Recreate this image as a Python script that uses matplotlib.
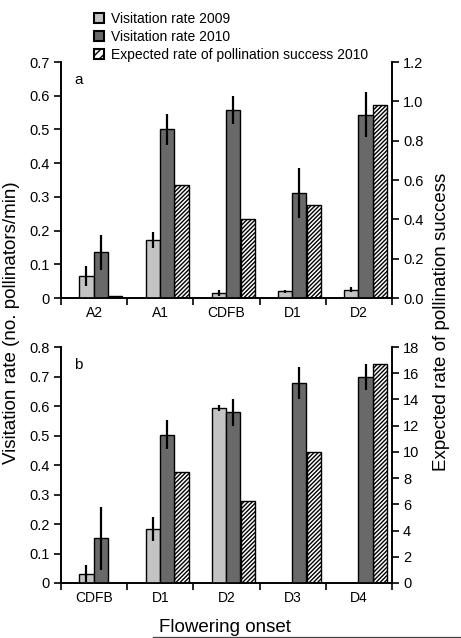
import matplotlib
matplotlib.use("Agg")
import matplotlib.pyplot as plt
import numpy as np
from matplotlib.patches import Patch
from matplotlib.lines import Line2D

plt.rcParams['font.family'] = ['Liberation Sans', 'DejaVu Sans']
plt.rcParams['hatch.linewidth'] = 1.0

# Panel a
cats_a = ["A2", "A1", "CDFB", "D1", "D2"]
v2009_a = [0.065, 0.171, 0.015, 0.020, 0.025]
e2009_a = [0.030, 0.024, 0.008, 0.005, 0.007]
v2010_a = [0.135, 0.500, 0.558, 0.312, 0.544]
e2010_a = [0.051, 0.045, 0.042, 0.075, 0.066]
exp_a = [0.012, 0.576, 0.400, 0.475, 0.981]

# Panel b
cats_b = ["CDFB", "D1", "D2", "D3", "D4"]
v2009_b = [0.032, 0.183, 0.593, 0.0, 0.0]
e2009_b = [0.030, 0.042, 0.010, 0.0, 0.0]
v2010_b = [0.152, 0.503, 0.578, 0.678, 0.699]
e2010_b = [0.107, 0.050, 0.047, 0.054, 0.045]
exp_b = [0.0, 8.44, 6.26, 9.96, 16.68]

light = "#c3c3c3"
dark = "#696969"

fig = plt.figure(figsize=(4.61, 6.38), dpi=100)

W = 0.215
offs = [-0.115, 0.10, 0.32]
HATCH = '////////'

def panel(rect, cats, v09, e09, v10, e10, ex, ylim, yticks, ylabels, y2lim, y2ticks, y2labels, letter):
    ax = fig.add_axes(rect)
    x = np.arange(len(cats))
    has09 = np.array(v09) > 0
    ax.bar(x[has09] + offs[0], np.array(v09)[has09], W, color=light, edgecolor='black', linewidth=1.0, zorder=2)
    ax.errorbar(x[has09] + offs[0], np.array(v09)[has09], yerr=np.array(e09)[has09], fmt='none', ecolor='black', elinewidth=1.6, capsize=0, zorder=3)
    ax.bar(x + offs[1], v10, W, color=dark, edgecolor='black', linewidth=1.0, zorder=2)
    ax.errorbar(x + offs[1], v10, yerr=e10, fmt='none', ecolor='black', elinewidth=1.6, capsize=0, zorder=3)
    ax.set_xlim(-0.5, len(cats) - 0.5)
    ax.set_ylim(*ylim)
    ax.set_yticks(yticks)
    ax.set_yticklabels(ylabels)
    ax.set_xticks(np.arange(len(cats) + 1) - 0.5)
    ax.set_xticklabels([])
    ax.set_xticks(x, minor=True)
    ax.set_xticklabels(cats, minor=True)
    ax.tick_params(axis='x', which='minor', length=0, labelsize=10, pad=6)
    ax.tick_params(axis='x', which='major', length=5, width=1.2, direction='out')
    ax.tick_params(axis='y', length=5, width=1.2, direction='out', labelsize=10.5, pad=3)
    ax.spines['top'].set_visible(False)
    for s in ['left', 'bottom', 'right']:
        ax.spines[s].set_linewidth(1.2)
    ax.patch.set_visible(False)

    ax2 = ax.twinx()
    ex = np.array(ex)
    hasx = ex > 0
    ax2.bar(x[hasx] + offs[2], ex[hasx], W, color='white', edgecolor='black', hatch=HATCH, linewidth=1.0, zorder=2)
    ax2.set_ylim(*y2lim)
    ax2.set_yticks(y2ticks)
    ax2.set_yticklabels(y2labels)
    ax2.tick_params(axis='y', length=5, width=1.2, direction='out', labelsize=10.5, pad=3)
    ax2.spines['top'].set_visible(False)
    for s in ['left', 'bottom', 'right']:
        ax2.spines[s].set_linewidth(1.2)
    ax.set_zorder(ax2.get_zorder() + 1)
    ax.text(0.04, 0.955, letter, transform=ax.transAxes, fontsize=11, va='top', ha='left')
    return ax, ax2

L = 61 / 461
Wd = (392 - 61) / 461
axa = panel([L, 1 - 298 / 638, Wd, (298 - 62) / 638], cats_a, v2009_a, e2009_a, v2010_a, e2010_a, exp_a,
            (0, 0.7), np.arange(0, 0.71, 0.1), ["0"] + ["%.1f" % v for v in np.arange(0.1, 0.71, 0.1)],
            (0, 1.2), np.arange(0, 1.21, 0.2), ["%.1f" % v for v in np.arange(0, 1.21, 0.2)], "a")
axb = panel([L, 1 - 583 / 638, Wd, (583 - 347) / 638], cats_b, v2009_b, e2009_b, v2010_b, e2010_b, exp_b,
            (0, 0.8), np.arange(0, 0.81, 0.1), ["0"] + ["%.1f" % v for v in np.arange(0.1, 0.81, 0.1)],
            (0, 18), np.arange(0, 18.1, 2), ["%d" % v for v in np.arange(0, 18.1, 2)], "b")

fig.text(12 / 461, 1 - 323 / 638, "Visitation rate (no. pollinators/min)", rotation=90, ha='center', va='center', fontsize=13.5)
fig.text(441 / 461, 1 - 322 / 638, "Expected rate of pollination success", rotation=90, ha='center', va='center', fontsize=13.5)
fig.text(225 / 461, 1 - 627 / 638, "Flowering onset", ha='center', va='center', fontsize=13.5)
fig.add_artist(Line2D([153 / 461, 1.0], [1 - 636.5 / 638, 1 - 636.5 / 638], transform=fig.transFigure, color='#444444', linewidth=0.9))

handles = [Patch(facecolor=light, edgecolor='black', linewidth=1.5),
           Patch(facecolor=dark, edgecolor='black', linewidth=1.5),
           Patch(facecolor='white', edgecolor='black', hatch='////', linewidth=1.5)]
labels = ["Visitation rate 2009", "Visitation rate 2010", "Expected rate of pollination success 2010"]
fig.legend(handles, labels, loc='upper left', bbox_to_anchor=(84 / 461, 1 - 2 / 638), frameon=False,
           fontsize=10, handlelength=0.75, handleheight=0.75, handletextpad=0.5, labelspacing=0.3, borderpad=0.2)

fig.savefig("out.png", dpi=100)
